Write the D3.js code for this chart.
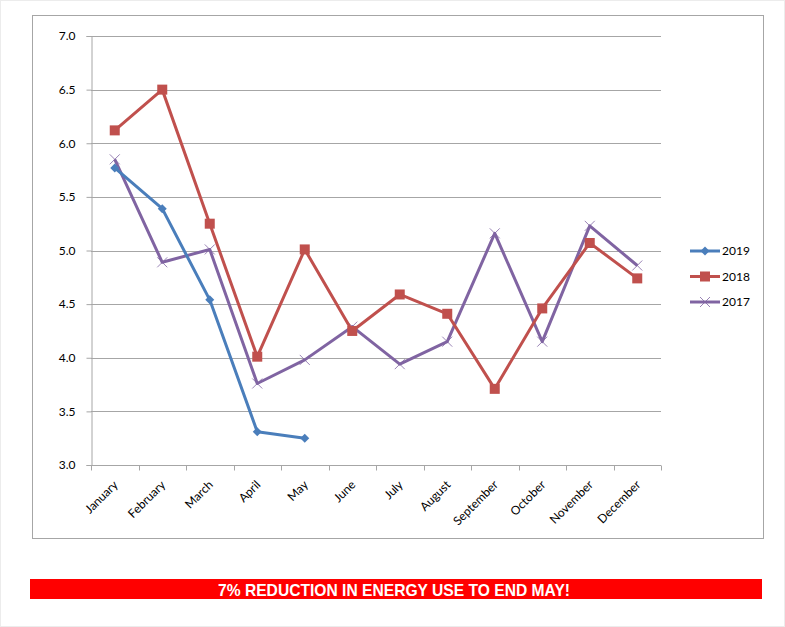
<!DOCTYPE html>
<html>
<head>
<meta charset="utf-8">
<script src="https://cdn.jsdelivr.net/npm/d3@7"></script>
<style>
  body { margin: 0; background: #fff; }
  svg { display: block; }
</style>
</head>
<body>
<svg id="chart" width="785" height="627"></svg>
<script>
// Monthly values
const months = ['January', 'February', 'March', 'April', 'May', 'June',
    'July', 'August', 'September', 'October', 'November', 'December'];
const yTicks = [3.0, 3.5, 4.0, 4.5, 5.0, 5.5, 6.0, 6.5, 7.0];
const values2019 = [5.77, 5.39, 4.54, 3.31, 3.25];
const values2018 = [6.12, 6.50, 5.25, 4.01, 5.01, 4.25, 4.59, 4.41, 3.71, 4.46, 5.07, 4.74];
const values2017 = [5.85, 4.89, 5.01, 3.76, 3.98, 4.29, 3.94, 4.15, 5.16, 4.15, 5.23, 4.86];
const banner = '7% REDUCTION IN ENERGY USE TO END MAY!';

const series = [
    { name: '2019', values: values2019, color: '#4A7EBB', marker: 'diamond' },
    { name: '2018', values: values2018, color: '#C0504D', marker: 'square' },
    { name: '2017', values: values2017, color: '#8064A2', marker: 'cross' }
];

const svg = d3.select('#chart');
const font = 'Lato, "Open Sans", sans-serif';

// faint page edge + chart frame
svg.append('rect').attr('x', 0.5).attr('y', 0.5).attr('width', 784).attr('height', 626)
    .attr('fill', 'none').attr('stroke', '#ececec');
svg.append('rect').attr('x', 32.5).attr('y', 15.5).attr('width', 731).attr('height', 523)
    .attr('fill', '#fff').attr('stroke', '#a6a6a6');

const plot = { left: 91, right: 661, top: 36, bottom: 465 };

const x = d3.scaleBand().domain(months).range([plot.left, plot.right]);
const y = d3.scaleLinear().domain([3, 7]).range([plot.bottom, plot.top]);

// gridlines
svg.append('g').selectAll('line').data(yTicks.slice(1)).join('line')
    .attr('x1', plot.left).attr('x2', plot.right)
    .attr('y1', d => Math.round(y(d)) + 0.5).attr('y2', d => Math.round(y(d)) + 0.5)
    .attr('stroke', '#a6a6a6').attr('stroke-width', 1);

// y axis
const yAxis = svg.append('g')
    .attr('transform', `translate(${plot.left + 0.5},0)`)
    .call(d3.axisLeft(y).tickValues(yTicks).tickFormat(d3.format('.1f')).tickSize(5).tickPadding(11));
yAxis.select('.domain').attr('stroke', '#a6a6a6');
yAxis.selectAll('.tick line').attr('stroke', '#a6a6a6');
yAxis.selectAll('.tick text').attr('font-family', font).attr('font-size', 12).attr('fill', '#000');

// x axis, ticks at category boundaries
const xAxis = svg.append('g').attr('transform', `translate(0,${plot.bottom + 0.5})`);
xAxis.append('line').attr('x1', plot.left).attr('x2', plot.right)
    .attr('stroke', '#a6a6a6');
xAxis.selectAll('.bound').data(months.concat(['end'])).join('line')
    .attr('class', 'bound')
    .attr('x1', (d, i) => Math.round(plot.left + i * x.bandwidth()) + 0.5)
    .attr('x2', (d, i) => Math.round(plot.left + i * x.bandwidth()) + 0.5)
    .attr('y1', 0).attr('y2', 5)
    .attr('stroke', '#a6a6a6');
xAxis.selectAll('text').data(months).join('text')
    .attr('transform', d => `translate(${x(d) + x.bandwidth() / 2 + 4},${20}) rotate(-45)`)
    .attr('text-anchor', 'end')
    .attr('font-family', font).attr('font-size', 12)
    .text(d => d);

// markers
function drawMarker(g, type, color) {
    if (type === 'diamond') {
        g.append('path').attr('d', 'M0,-4.5L4.5,0L0,4.5L-4.5,0Z').attr('fill', color);
    } else if (type === 'square') {
        g.append('rect').attr('x', -5).attr('y', -5).attr('width', 10).attr('height', 10).attr('fill', color);
    } else {
        g.append('path').attr('d', 'M-5,-5L5,5M-5,5L5,-5')
            .attr('stroke', color).attr('stroke-width', 1).attr('fill', 'none').attr('opacity', 0.8);
    }
}

const line = d3.line()
    .x((d, i) => x(months[i]) + x.bandwidth() / 2)
    .y(d => y(d));

// draw 2017 first so 2019 sits on top, like the original
series.slice().reverse().forEach(s => {
    svg.append('path').datum(s.values)
        .attr('d', line)
        .attr('fill', 'none')
        .attr('stroke', s.color)
        .attr('stroke-width', 3)
        .attr('stroke-linejoin', 'round');
    s.values.forEach((v, i) => {
        const g = svg.append('g')
            .attr('transform', `translate(${x(months[i]) + x.bandwidth() / 2},${y(v)})`);
        drawMarker(g, s.marker, s.color);
    });
});

// legend
const legend = svg.append('g').attr('transform', 'translate(690,251)');
series.forEach((s, i) => {
    const row = legend.append('g').attr('transform', `translate(0,${i * 25.5})`);
    row.append('line').attr('x1', 0).attr('x2', 30)
        .attr('stroke', s.color).attr('stroke-width', 3);
    drawMarker(row.append('g').attr('transform', 'translate(15,0)'), s.marker, s.color);
    row.append('text').attr('x', 32).attr('y', 4)
        .attr('font-family', font).attr('font-size', 12)
        .text(s.name);
});

// red banner
svg.append('rect').attr('x', 30).attr('y', 579).attr('width', 732).attr('height', 20)
    .attr('fill', '#ff0000');
svg.append('text').attr('x', 218).attr('y', 595.5)
    .attr('textLength', 352).attr('lengthAdjust', 'spacingAndGlyphs')
    .attr('font-family', '"Liberation Sans Narrow", "Arial Narrow", "Liberation Sans", sans-serif')
    .attr('font-weight', 'bold').attr('font-size', 17).attr('fill', '#fff')
    .text(banner);
</script>
</body>
</html>
